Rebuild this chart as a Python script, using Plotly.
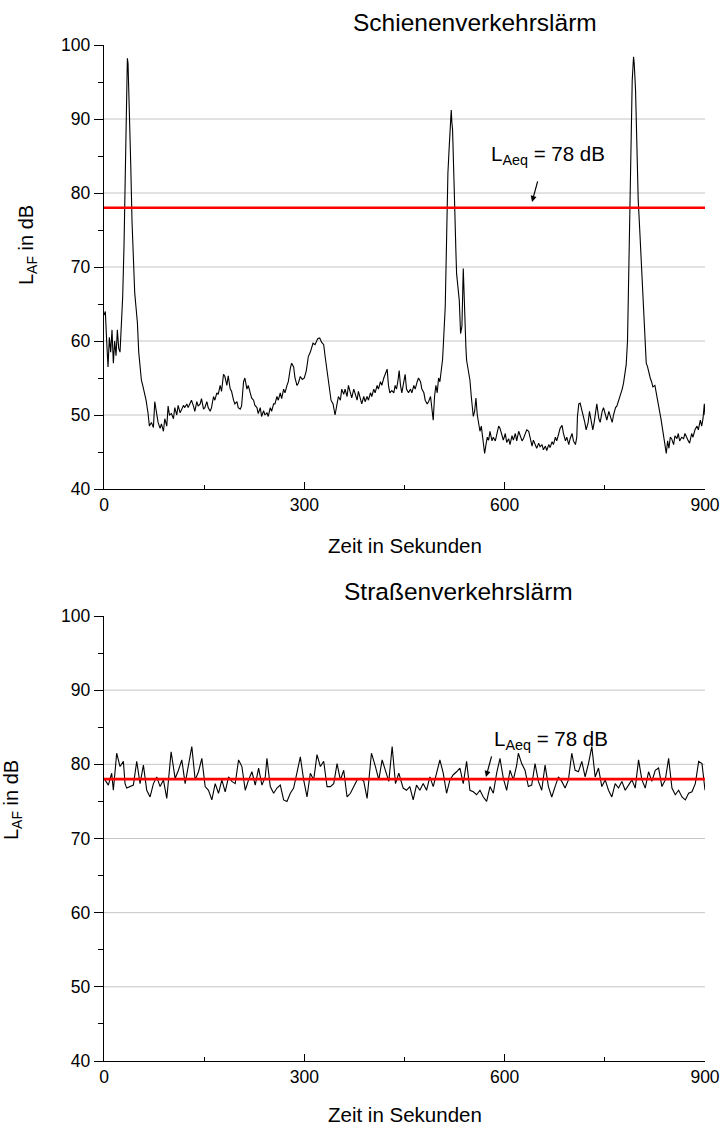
import plotly.graph_objects as go

# ---------------- data ----------------
rail_t = [0, 2, 4, 6, 8, 10, 12, 14, 16, 18, 20, 22, 24, 26, 28, 30, 32, 34, 35, 36, 38, 40, 42, 44, 46, 48, 50,
          52, 54, 56, 58, 61, 63, 66, 68, 71, 74, 76, 78, 81, 84, 86, 89, 91, 94, 96, 98, 101, 104, 106, 109, 111,
          114, 116, 119, 121, 124, 126, 129, 131, 134, 136, 139, 141, 144, 146, 149, 151, 154, 156, 159, 161, 164,
          166, 169, 171, 174, 176, 179, 181, 184, 186, 189, 191, 194, 196, 199, 201, 204, 206, 209, 211, 214, 216,
          219, 221, 224, 226, 229, 231, 234, 236, 239, 241, 244, 246, 249, 251, 254, 256, 259, 261, 264, 266, 269,
          271, 274, 276, 279, 281, 284, 286, 289, 291, 294, 297, 300, 303, 306, 309, 313, 316, 320, 323, 326, 329,
          331, 334, 337, 340, 343, 346, 349, 351, 354, 356, 359, 361, 364, 366, 369, 371, 374, 376, 379, 381, 384,
          386, 389, 391, 394, 396, 399, 401, 404, 406, 409, 411, 414, 416, 419, 421, 424, 426, 428, 431, 434, 436,
          438, 440, 442, 444, 446, 449, 451, 453, 456, 459, 461, 464, 466, 469, 471, 474, 476, 479, 481, 484, 486,
          489, 491, 493, 495, 497, 499, 501, 503, 505, 507, 508, 510, 511, 513, 515, 517, 519, 520, 521, 522, 524,
          525, 527, 528, 530, 532, 534, 536, 538, 539, 540, 542, 543, 546, 548, 550, 553, 555, 557, 559, 561, 563,
          565, 568, 570, 572, 574, 576, 578, 581, 583, 586, 588, 591, 593, 596, 598, 601, 603, 606, 608, 611, 613,
          616, 618, 621, 623, 626, 628, 631, 633, 636, 638, 641, 643, 646, 648, 651, 653, 656, 658, 661, 663, 666,
          668, 671, 673, 676, 678, 681, 683, 686, 688, 691, 693, 696, 698, 701, 703, 706, 708, 709, 711, 713, 716,
          718, 720, 722, 725, 727, 729, 732, 734, 736, 738, 741, 743, 746, 748, 751, 753, 756, 758, 761, 763, 766,
          768, 771, 773, 776, 778, 780, 782, 784, 786, 787, 789, 791, 793, 794, 796, 798, 800, 802, 804, 806, 808,
          810, 812, 814, 816, 818, 820, 822, 825, 828, 830, 832, 834, 836, 838, 840, 842, 844, 846, 848, 850, 853,
          855, 858, 860, 862, 865, 868, 870, 872, 875, 877, 880, 882, 885, 888, 890, 893, 895, 897, 899, 900]
rail_db = [63.5, 64.0, 60.0, 56.5, 60.5, 58.5, 61.5, 57.0, 60.0, 58.0, 61.5, 59.0, 58.5, 62.0, 66.0, 73.0, 84.0,
           94.0, 98.2, 97.5, 91.7, 84.0, 76.0, 70.0, 66.5, 64.5, 62.5, 58.5, 56.0, 54.7, 54.0, 53.0, 52.0, 50.2,
           48.5, 49.0, 48.3, 51.8, 50.5, 49.0, 48.2, 48.8, 47.8, 49.5, 48.5, 51.2, 50.0, 50.2, 49.5, 51.0, 50.0,
           51.3, 50.3, 50.8, 51.3, 51.0, 51.5, 51.0, 51.7, 52.0, 51.2, 50.5, 51.8, 51.2, 51.5, 52.2, 50.8, 51.0,
           51.8, 51.0, 50.5, 51.0, 52.5, 52.0, 53.0, 52.8, 54.0, 53.2, 55.5, 55.2, 54.0, 55.3, 53.5, 53.2, 52.0,
           51.5, 51.8, 51.0, 50.8, 51.2, 54.5, 55.0, 53.5, 54.0, 53.0, 52.3, 52.0, 51.3, 51.0, 50.2, 51.0, 49.8,
           50.6, 50.0, 50.3, 49.8, 51.0, 50.5, 51.5, 51.5, 52.5, 52.0, 53.0, 52.2, 53.5, 53.0, 54.0, 54.5, 56.3,
           57.0, 56.5, 55.0, 54.0, 54.3, 55.2, 54.8, 55.0, 56.0, 57.9, 58.5, 59.7, 59.5, 60.3, 60.4, 59.8, 59.5,
           58.0, 56.0, 54.0, 52.0, 51.5, 50.0, 51.5, 52.5, 52.0, 53.5, 52.8, 53.5, 52.5, 54.0, 53.0, 52.3, 53.5,
           53.0, 52.0, 53.2, 52.0, 51.5, 52.5, 51.8, 52.5, 52.0, 53.0, 52.5, 53.5, 53.0, 54.0, 53.5, 54.5, 54.0,
           55.0, 55.5, 56.2, 54.0, 53.0, 53.3, 53.0, 54.0, 53.5, 54.5, 56.0, 54.0, 53.0, 54.5, 55.5, 53.5, 53.0,
           53.5, 53.0, 54.0, 53.5, 54.5, 55.0, 54.5, 53.5, 53.0, 52.0, 51.5, 51.8, 52.5, 51.0, 49.3, 52.5, 54.0,
           53.0, 55.0, 54.5, 56.0, 57.5, 59.2, 62.5, 64.6, 73.6, 82.7, 86.3, 90.0, 91.2, 89.5, 88.5, 82.0, 77.5,
           72.0, 69.1, 67.0, 65.5, 61.0, 62.0, 69.8, 67.0, 62.0, 59.0, 57.4, 55.5, 54.7, 52.5, 49.8, 50.5, 52.3,
           50.0, 48.9, 47.8, 48.5, 46.5, 44.8, 46.0, 47.0, 46.6, 47.8, 46.5, 47.0, 46.5, 47.5, 48.5, 48.2, 47.0,
           46.6, 47.5, 46.3, 46.8, 46.0, 47.2, 46.6, 47.5, 46.5, 47.8, 47.3, 46.5, 46.8, 47.5, 48.0, 47.8, 47.0,
           45.8, 46.6, 46.0, 45.5, 46.2, 45.7, 46.0, 45.3, 45.8, 45.2, 46.0, 45.6, 46.4, 46.0, 47.0, 46.5, 47.5,
           48.2, 48.6, 47.5, 46.5, 47.0, 46.0, 46.8, 47.5, 46.5, 46.0, 47.0, 49.8, 51.5, 51.6, 50.5, 50.0, 49.0,
           48.0, 49.0, 50.5, 49.5, 48.0, 49.0, 50.5, 51.5, 49.5, 49.0, 50.5, 51.0, 50.0, 49.3, 50.5, 49.8, 49.0,
           50.0, 51.0, 51.2, 52.0, 52.8, 53.5, 54.3, 55.3, 56.8, 60.1, 69.0, 73.6, 87.1, 95.2, 98.4, 97.5, 93.9,
           84.0, 79.0, 75.5, 71.5, 67.5, 63.0, 59.5, 57.0, 56.5, 55.5, 55.0, 54.5, 53.8, 54.0, 52.7, 51.5, 50.5,
           49.5, 48.5, 47.5, 46.0, 44.8, 46.5, 45.5, 47.0, 46.8, 46.0, 47.2, 46.8, 47.5, 46.5, 47.0, 46.8, 47.5,
           47.0, 46.5, 46.2, 47.5, 47.0, 48.0, 48.5, 48.0, 49.3, 48.5, 49.5, 51.5, 50.0]

road_t = [1.5, 6.5, 11.5, 14, 19, 24, 29, 31.5, 34, 39, 44, 49, 54, 59, 64, 69, 74, 79, 84, 89, 94, 100.5, 106.5,
          111.5, 116.5, 121.5, 126.5, 131.5, 136.5, 141.5, 146.5, 151.5, 156.5, 161.5, 166.5, 171.5, 176.5, 181.5,
          186.5, 191.5, 196.5, 201.5, 206.5, 211.5, 216.5, 221.5, 226.5, 231.5, 236.5, 241.5, 244, 249, 254, 259,
          264, 269, 274, 279, 284, 289, 294, 299, 304, 309, 314, 319, 324, 329, 334, 339, 344, 349, 354, 359, 364,
          369, 374, 379, 384, 389, 394, 400.5, 406.5, 411.5, 416.5, 421.5, 426.5, 431.5, 436.5, 441.5, 448, 453,
          458, 463, 468, 473, 478, 483, 488, 493, 498, 503, 508, 513, 518, 523, 528, 533, 538, 543, 548, 553, 558,
          563, 568, 573, 578, 583, 588, 593, 598, 603, 608, 613, 618, 620.5, 625.5, 630.5, 635.5, 640.5, 645.5,
          650.5, 655.5, 660.5, 665.5, 670.5, 675.5, 680.5, 685.5, 690.5, 695.5, 700.5, 705.5, 710.5, 715.5, 720.5,
          725.5, 730.5, 735.5, 740.5, 745.5, 750.5, 755.5, 760.5, 765.5, 770.5, 775.5, 780.5, 785.5, 790.5, 795.5,
          800.5, 805.5, 810.5, 815.5, 820.5, 825.5, 830.5, 835.5, 840.5, 845.5, 850.5, 855.5, 860.5, 865.5, 870.5,
          875.5, 880.5, 885.5, 890.5, 895.5, 900]
road_db = [77.9, 77.2, 78.8, 76.5, 81.5, 79.7, 80.4, 77.4, 76.8, 77.0, 77.2, 80.4, 77.4, 79.9, 76.5, 75.6, 77.4,
           78.3, 77.0, 77.9, 75.4, 81.7, 78.1, 79.2, 80.6, 77.4, 79.7, 82.4, 77.9, 79.0, 80.8, 77.0, 76.5, 75.2,
           77.4, 76.1, 77.9, 76.3, 78.3, 77.7, 77.4, 80.6, 79.7, 76.5, 77.9, 79.0, 77.2, 79.5, 77.2, 78.3, 80.8,
           77.0, 76.1, 76.8, 77.2, 75.2, 75.0, 76.1, 76.8, 78.8, 81.0, 77.9, 75.6, 78.8, 77.9, 81.3, 79.7, 80.4,
           77.0, 77.0, 77.4, 80.1, 77.9, 79.2, 75.6, 76.1, 77.0, 77.9, 78.1, 77.7, 75.4, 81.5, 79.7, 77.9, 80.6,
           79.0, 77.7, 82.4, 77.4, 78.8, 76.8, 76.5, 77.0, 75.2, 77.2, 76.5, 77.4, 76.5, 78.3, 77.0, 78.8, 80.6,
           78.8, 76.1, 77.9, 78.6, 79.0, 79.5, 77.4, 80.4, 76.5, 76.3, 75.9, 76.5, 75.6, 75.0, 77.0, 76.1, 78.8,
           80.8, 78.1, 76.5, 79.2, 77.9, 79.9, 81.5, 80.1, 79.2, 77.0, 77.2, 80.1, 77.7, 76.5, 79.9, 77.0, 75.6,
           77.0, 78.3, 77.7, 76.8, 77.9, 81.5, 79.2, 79.0, 80.4, 78.3, 80.1, 82.4, 78.3, 79.5, 77.0, 77.9, 76.5,
           75.6, 77.4, 76.8, 77.7, 76.5, 77.2, 77.9, 76.8, 80.6, 77.9, 76.8, 79.0, 77.7, 79.2, 79.5, 77.0, 77.9,
           80.8, 76.8, 75.9, 76.5, 75.6, 75.2, 76.1, 76.3, 77.4, 80.4, 80.1, 76.5]

laeq_db = 78
time_range = [0, 900]
level_range = [40, 100]
x_ticks = [0, 300, 600, 900]
x_minor_ticks = [150, 450, 750]
y_ticks = [40, 50, 60, 70, 80, 90, 100]
grid_levels = [50, 60, 70, 80, 90]
titles = ["Schienenverkehrslärm", "Straßenverkehrslärm"]
x_title = "Zeit in Sekunden"
y_title = "L<sub>AF</sub> in dB"
laeq_label = "L<sub>Aeq</sub> = 78 dB"

# ---------------- figure ----------------
FONT = "Liberation Sans, Arial, sans-serif"
W, H = 720, 1127
ML, MR, MT, MB = 104, 15, 45, 66
PH = H - MT - MB


def py(px):
    return (H - MB - px) / PH


def px_x(px):
    return (px - ML) / (W - ML - MR)


fig = go.Figure()
for i, (t, v) in enumerate([(rail_t, rail_db), (road_t, road_db)]):
    xa = "x" if i == 0 else "x2"
    ya = "y" if i == 0 else "y2"
    fig.add_trace(go.Scatter(x=t, y=v, mode="lines", line=dict(color="black", width=1.1),
                             xaxis=xa, yaxis=ya, showlegend=False, hoverinfo="skip"))
    fig.add_trace(go.Scatter(x=time_range, y=[laeq_db, laeq_db], mode="lines",
                             line=dict(color="#ff0000", width=2.6),
                             xaxis=xa, yaxis=ya, showlegend=False, hoverinfo="skip"))
    for g in grid_levels:
        fig.add_shape(type="line", xref=xa, yref=ya, x0=time_range[0], x1=time_range[1], y0=g, y1=g,
                      line=dict(color="#c4c4c4", width=1), layer="below")

axis_common = dict(showline=True, linecolor="black", linewidth=1.4, zeroline=False, showgrid=False,
                   automargin=False,
                   tickfont=dict(family=FONT, size=17.5, color="black"), mirror=False)
xcommon = dict(axis_common, range=time_range, tickvals=x_ticks, ticks="inside", ticklen=7,
               tickwidth=1.3, tickcolor="black",
               minor=dict(tickvals=x_minor_ticks, ticks="inside", ticklen=4, tickwidth=1.2, tickcolor="black"))
ycommon = dict(axis_common, range=level_range, tickvals=y_ticks, ticks="outside", ticklen=9,
               tickwidth=1.3, tickcolor="black",
               minor=dict(tick0=40, dtick=5, ticks="outside", ticklen=5, tickwidth=1.2, tickcolor="black"))

top_dom = [py(489), 1.0]
bot_dom = [0.0, py(616)]

fig.update_layout(
    width=W, height=H, autosize=False, margin=dict(l=ML, r=MR, t=MT, b=MB),
    paper_bgcolor="white", plot_bgcolor="white",
    xaxis=dict(xcommon, domain=[0, 1], anchor="y"),
    yaxis=dict(ycommon, domain=top_dom, anchor="x"),
    xaxis2=dict(xcommon, domain=[0, 1], anchor="y2"),
    yaxis2=dict(ycommon, domain=bot_dom, anchor="x2"),
    font=dict(family=FONT, color="black"),
)

ann = []
# titles
ann.append(dict(text=titles[0], xref="paper", yref="paper", x=px_x(475), y=py(22), showarrow=False,
                font=dict(size=24.5, family=FONT), xanchor="center", yanchor="middle"))
ann.append(dict(text=titles[1], xref="paper", yref="paper", x=px_x(458), y=py(592), showarrow=False,
                font=dict(size=24.5, family=FONT), xanchor="center", yanchor="middle"))
# x titles
for yy in (545, 1114):
    ann.append(dict(text=x_title, xref="paper", yref="paper", x=px_x(405), y=py(yy), showarrow=False,
                    font=dict(size=20.5, family=FONT), xanchor="center", yanchor="middle"))
# y titles
for xx, yy in ((28, 245), (12, 800)):
    ann.append(dict(text=y_title, xref="paper", yref="paper", x=px_x(xx), y=py(yy), showarrow=False,
                    textangle=-90, font=dict(size=20, family=FONT), xanchor="center", yanchor="middle"))
# LAeq labels and arrows
for xa, ya, tx, ty, hx, hy in (("x", "y", 665, 85.1, 641, 78.8), ("x2", "y2", 669, 83.3, 572, 78.3)):
    ann.append(dict(text=laeq_label, xref=xa, yref=ya, x=tx, y=ty, showarrow=False,
                    font=dict(size=20.5, family=FONT), xanchor="center", yanchor="middle"))
    ann.append(dict(text="", xref=xa, yref=ya, x=hx, y=hy, ax=6, ay=-22, showarrow=True,
                    arrowhead=2, arrowsize=1, arrowwidth=1.2, arrowcolor="black"))
fig.update_layout(annotations=ann)

fig.write_html(
    "out.html",
    config={"responsive": False, "displayModeBar": False},
    post_script="document.body.style.margin='0';document.body.style.overflow='hidden';",
)
